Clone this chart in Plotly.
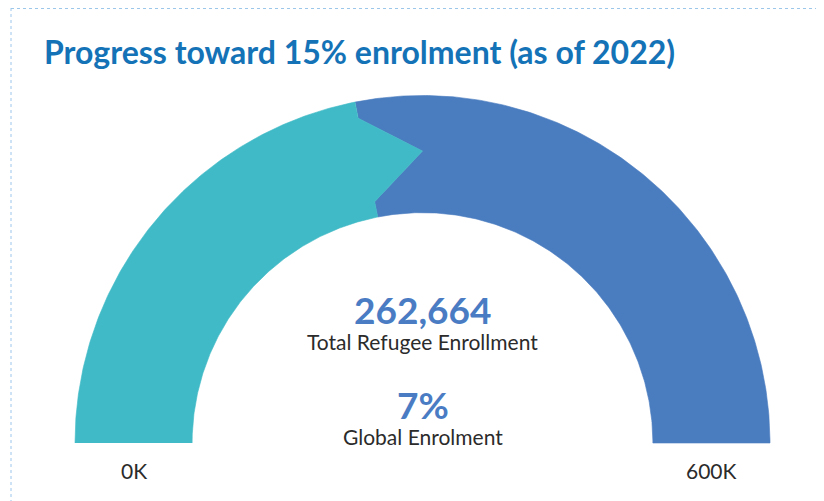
import numpy as np
import plotly.graph_objects as go

# ---- data ----
title_text = "Progress toward 15% enrolment (as of 2022)"
gauge_min = 0
gauge_max = 600000
total_enrollment = 262664
global_pct = 7
value_label = "Total Refugee Enrollment"
pct_label = "Global Enrolment"

# ---- style ----
W, H = 824, 501
OFF = 8                                   # page body margin compensation
CX, CY, R = 422.5 - OFF, 443.0 - OFF, 347.5
INNER = 0.663
TEAL = "#40BAC6"
BLUE = "#4A7CC0"
TITLE_C = "#1472B6"
NUM_C = "#4A7CC4"
TXT_C = "#2b2b2b"
FONT = "Lato"
TIP_OFFSET = 11.2
CHEV = (0.953, 0.84, 0.708)


def frac_to_deg(v):
    return 180.0 - 180.0 * (v - gauge_min) / (gauge_max - gauge_min)


def arc(r, a0, a1, n=200):
    t = np.radians(np.linspace(a0, a1, n))
    return list(r * np.cos(t)), list(r * np.sin(t))


def pol(r, a):
    return r * np.cos(np.radians(a)), r * np.sin(np.radians(a))


thb = frac_to_deg(total_enrollment)
tht = thb - TIP_OFFSET

ox, oy = arc(1.0, frac_to_deg(gauge_min), thb)
ix, iy = arc(INNER, thb, frac_to_deg(gauge_min))
c1 = pol(CHEV[0], thb)
c2 = pol(CHEV[1], tht)
c3 = pol(CHEV[2], thb)
tx = ox + [c1[0], c2[0], c3[0]] + ix
ty = oy + [c1[1], c2[1], c3[1]] + iy

ox2, oy2 = arc(1.0, thb, frac_to_deg(gauge_max))
ix2, iy2 = arc(INNER, frac_to_deg(gauge_max), thb)
bx = ox2 + ix2 + [c3[0], c2[0], c1[0]]
by = oy2 + iy2 + [c3[1], c2[1], c1[1]]

fig = go.Figure()
fig.add_trace(go.Scatter(x=bx, y=by, fill="toself", fillcolor=BLUE, mode="lines",
                         line=dict(color=BLUE, width=0.6), hoverinfo="skip", showlegend=False))
fig.add_trace(go.Scatter(x=tx, y=ty, fill="toself", fillcolor=TEAL, mode="lines",
                         line=dict(color=TEAL, width=0.6), hoverinfo="skip", showlegend=False))

xr = [(0 - CX) / R, (W - CX) / R]
yr = [(CY - H) / R, CY / R]


def px(p):
    return (p - OFF) / W


def py(p):
    return 1 - (p - OFF) / H


ann = []
ann.append(dict(text=f"<b>{title_text}</b>", x=px(42), y=py(52), xref="paper", yref="paper",
                xanchor="left", yanchor="middle", showarrow=False,
                font=dict(family=FONT, size=32, color=TITLE_C)))
ann.append(dict(text=f"<b>{total_enrollment:,}</b>", x=0, y=py(309), xref="x", yref="paper",
                xanchor="center", yanchor="middle", showarrow=False,
                font=dict(family=FONT, size=37, color=NUM_C)))
ann.append(dict(text=value_label, x=0, y=py(341), xref="x", yref="paper",
                xanchor="center", yanchor="middle", showarrow=False,
                font=dict(family=FONT, size=21, color=TXT_C)))
ann.append(dict(text=f"<b>{global_pct}%</b>", x=0, y=py(404), xref="x", yref="paper",
                xanchor="center", yanchor="middle", showarrow=False,
                font=dict(family=FONT, size=37, color=NUM_C)))
ann.append(dict(text=pct_label, x=0, y=py(436), xref="x", yref="paper",
                xanchor="center", yanchor="middle", showarrow=False,
                font=dict(family=FONT, size=21, color=TXT_C)))
mid = (1 + INNER) / 2
ann.append(dict(text=f"{gauge_min // 1000}K", x=-mid, y=py(470), xref="x", yref="paper",
                xanchor="center", yanchor="middle", showarrow=False,
                font=dict(family=FONT, size=21, color=TXT_C)))
ann.append(dict(text=f"{gauge_max // 1000}K", x=mid, y=py(470), xref="x", yref="paper",
                xanchor="center", yanchor="middle", showarrow=False,
                font=dict(family=FONT, size=21, color=TXT_C)))

shapes = [
    dict(type="line", xref="paper", yref="paper", x0=px(11), x1=1, y0=1 - 0.5 / H, y1=1 - 0.5 / H,
         line=dict(color="#9CC6EA", width=1, dash="dot")),
    dict(type="line", xref="paper", yref="paper", x0=px(11), x1=px(11), y0=1, y1=0,
         line=dict(color="#9CC6EA", width=1, dash="dot")),
]

fig.update_layout(
    width=W, height=H, margin=dict(l=0, r=0, t=0, b=0),
    paper_bgcolor="white", plot_bgcolor="white",
    xaxis=dict(range=xr, visible=False, fixedrange=True),
    yaxis=dict(range=yr, visible=False, fixedrange=True),
    annotations=ann, shapes=shapes, showlegend=False,
)
fig.write_html("out.html")
